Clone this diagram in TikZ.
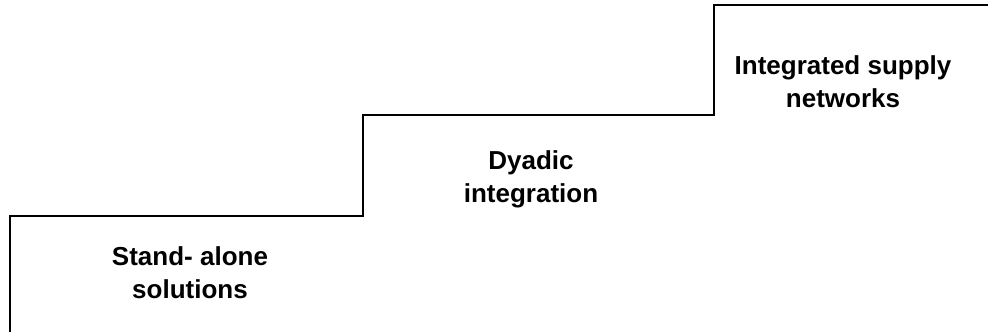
\documentclass[tikz,border=0pt]{standalone}
\usepackage{fontspec}
\setmainfont{Liberation Sans}
\begin{document}
\begin{tikzpicture}[x=1pt,y=-1pt,
  stair/.style={line width=1.6pt,line join=miter,black},
  steplabel/.style={font=\fontsize{26}{33}\selectfont\bfseries,align=center,inner sep=0pt}]
\useasboundingbox (0,0) rectangle (988,332);
\coordinate (p0) at (10,340);
\coordinate (p1) at (10,216);
\coordinate (p2) at (363,216);
\coordinate (p3) at (363,115);
\coordinate (p4) at (714,115);
\coordinate (p5) at (714,5);
\coordinate (p6) at (995,5);
\draw[stair] (p0) -- (p1) -- (p2) -- (p3) -- (p4) -- (p5) -- (p6);
\node[steplabel] (sa) at (190,273) {Stand- alone\\solutions};
\node[steplabel] (dy) at (531,179) {Dyadic\\integration};
\node[steplabel] (isn) at (843,82) {Integrated supply\\networks};
\end{tikzpicture}
\end{document}
